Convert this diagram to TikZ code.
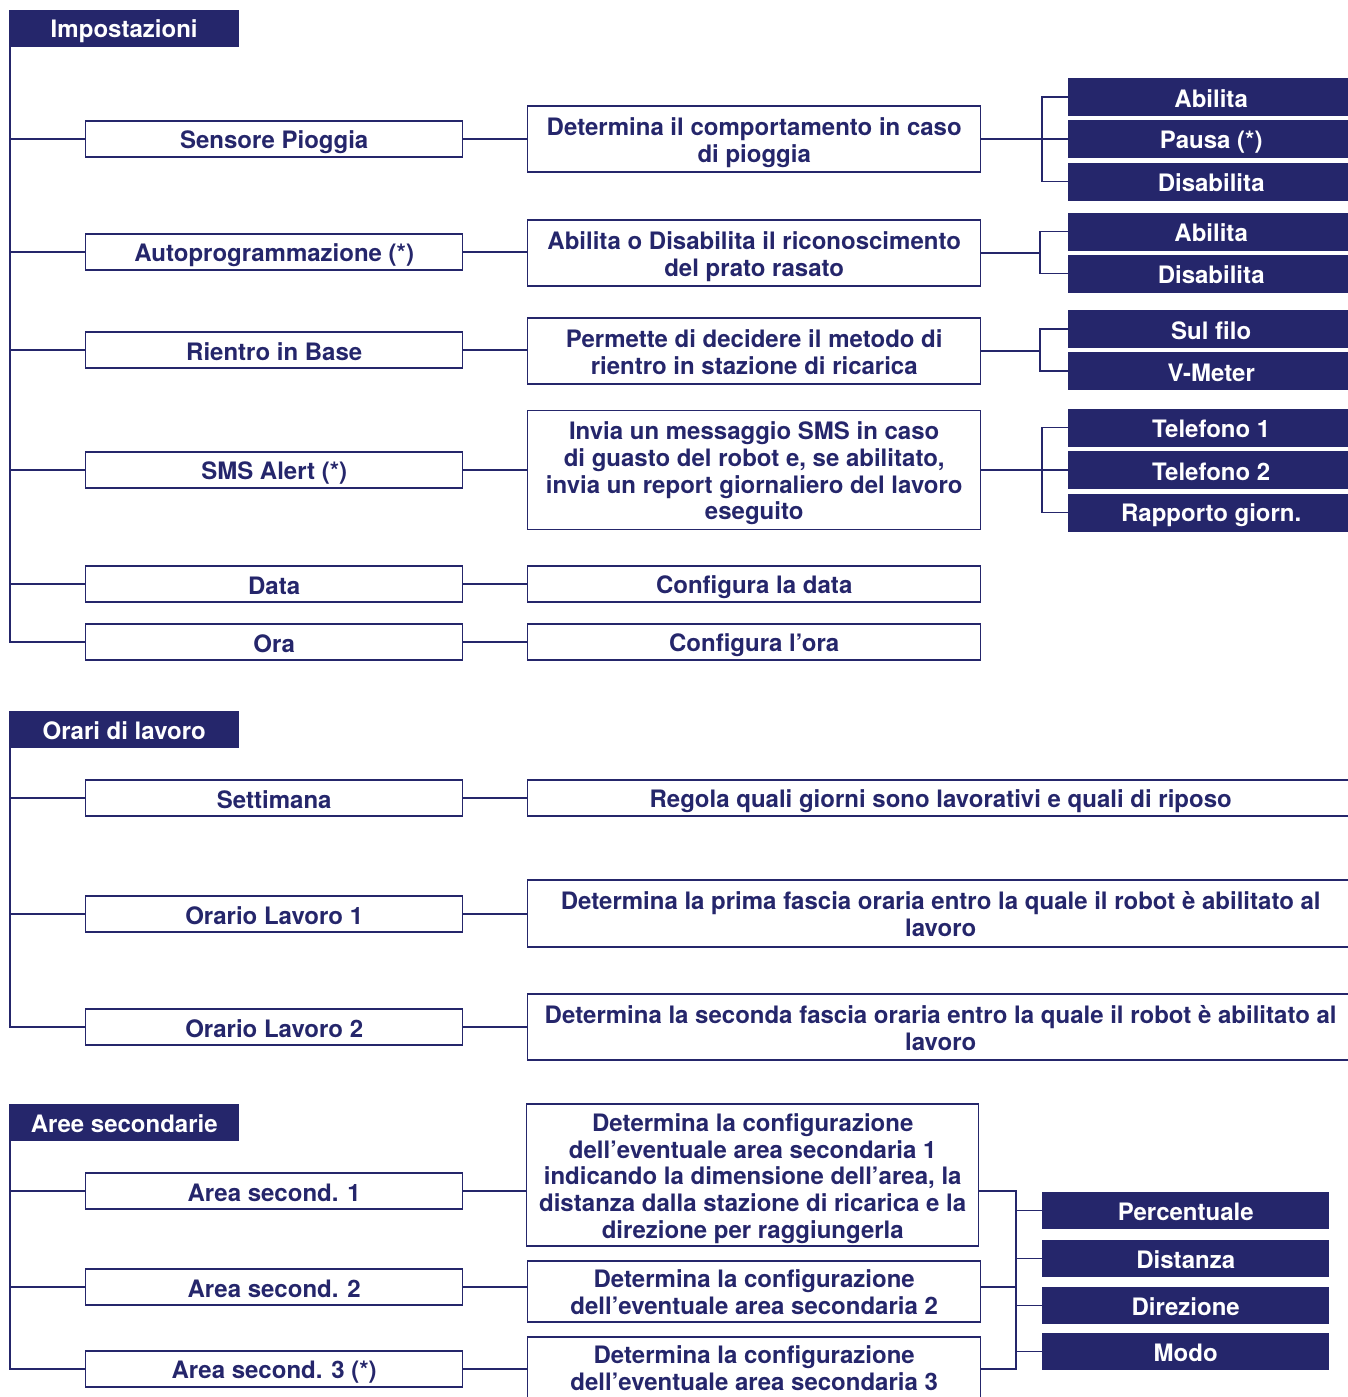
\documentclass[tikz,border=0pt]{standalone}
\usepackage{fontspec}
\setmainfont{TeX Gyre Heros}
\definecolor{navy}{RGB}{37,38,107}
\newcommand{\lnstrut}{\rule[-3.2pt]{0pt}{26.7pt}}
\newcommand{\topstrut}{\rule{0pt}{25.5pt}}
\newcommand{\botstrut}{\rule[-6pt]{0pt}{6pt}}
\tikzset{
  hdr/.style={fill=navy,text=white,minimum width=230pt,minimum height=37pt,anchor=north west,inner sep=0pt},
  item/.style={draw=navy,line width=1.4pt,text=navy,minimum width=377pt,minimum height=36pt,anchor=west,inner sep=0pt},
  desc/.style={draw=navy,line width=1.4pt,text=navy,minimum width=453pt,anchor=west,align=center,inner sep=0pt,
    execute at begin node={},execute at end node={}},
  desc1/.style={desc,execute at begin node=\lnstrut,execute at end node=\lnstrut},
  opt/.style={fill=navy,text=white,minimum width=286pt,minimum height=38pt,anchor=west,inner sep=0pt},
  link/.style={draw=navy,line width=1.3pt},
}
\begin{document}
\begin{tikzpicture}[x=1pt,y=-1pt,font=\fontsize{24}{26.7}\selectfont\bfseries,
  execute at begin node=\lnstrut, execute at end node=\lnstrut]
\useasboundingbox (0,0) rectangle (1347,1397);

% Impostazioni
\node[hdr] (impo) at (9,10) {Impostazioni};
\node[item] (sens) at (85,139) {Sensore Pioggia};
\node[item] (auto) at (85,252) {Autoprogrammazione (*)};
\node[item] (rient) at (85,350) {Rientro in Base};
\node[item] (sms) at (85,470) {SMS Alert (*)};
\node[item] (data) at (85,584) {Data};
\node[item] (ora) at (85,642) {Ora};

\node[desc,minimum height=66pt] (dsens) at (527,139) {\topstrut Determina il comportamento in caso\\di pioggia\botstrut};
\node[desc,minimum height=66pt] (dauto) at (527,253) {\topstrut Abilita o Disabilita il riconoscimento\\del prato rasato\botstrut};
\node[desc,minimum height=66pt] (drient) at (527,351) {\topstrut Permette di decidere il metodo di\\rientro in stazione di ricarica\botstrut};
\node[desc,minimum height=119pt] (dsms) at (527,470) {\topstrut Invia un messaggio SMS in caso\\di guasto del robot e, se abilitato,\\invia un report giornaliero del lavoro\\eseguito\botstrut};
\node[desc1,minimum height=36pt] (ddata) at (527,584) {Configura la data};
\node[desc1,minimum height=36pt] (dora) at (527,642) {Configura l’ora};

\node[opt] (abil1) at (1068,97) {Abilita};
\node[opt] (paus1) at (1068,139) {Pausa (*)};
\node[opt] (dis1) at (1068,181.5) {Disabilita};
\node[opt] (abil2) at (1068,231.5) {Abilita};
\node[opt] (dis2) at (1068,273.5) {Disabilita};
\node[opt] (filo) at (1068,329) {Sul filo};
\node[opt] (vmet) at (1068,371) {V-Meter};
\node[opt] (tel1) at (1068,427.5) {Telefono 1};
\node[opt] (tel2) at (1068,470) {Telefono 2};
\node[opt] (rapp) at (1068,512.5) {Rapporto giorn.};

\coordinate (r1) at (10,47);
\draw[link] (r1) |- (ora.west);
\foreach \n in {sens,auto,rient,sms,data}
  \draw[link] (r1 |- \n.west) -- (\n.west);
\foreach \a/\b in {sens/dsens,auto/dauto,rient/drient,sms/dsms,data/ddata,ora/dora}
  \draw[link] (\a.east) -- (\a.east -| \b.west);

% opzioni
\draw[link] (dsens.east) -- (paus1.west);
\draw[link] (abil1.west) -- ++(-26,0) |- (dis1.west);
\draw[link] (abil2.west) -- ++(-28,0) coordinate (b2) |- (dis2.west);
\draw[link] (dauto.east) -- (dauto.east -| b2);
\draw[link] (filo.west) -- ++(-28,0) coordinate (b3) |- (vmet.west);
\draw[link] (drient.east) -- (drient.east -| b3);
\draw[link] (dsms.east) -- (tel2.west);
\draw[link] (tel1.west) -- ++(-26,0) |- (rapp.west);

% Orari di lavoro
\node[hdr] (orari) at (9,711) {Orari di lavoro};
\node[item] (sett) at (85,798) {Settimana};
\node[item] (lav1) at (85,914) {Orario Lavoro 1};
\node[item] (lav2) at (85,1027) {Orario Lavoro 2};

\node[desc1,minimum width=826pt,minimum height=36pt] (dsett) at (527,798) {Regola quali giorni sono lavorativi e quali di riposo};
\node[desc,minimum width=826pt,minimum height=67pt] (dlav1) at (527,913.5) {\topstrut Determina la prima fascia oraria entro la quale il robot è abilitato al\\lavoro\botstrut};
\node[desc,minimum width=826pt,minimum height=66pt] (dlav2) at (527,1027) {\topstrut Determina la seconda fascia oraria entro la quale il robot è abilitato al\\lavoro\botstrut};

\coordinate (r2) at (10,748);
\draw[link] (r2) |- (lav2.west);
\foreach \n in {sett,lav1}
  \draw[link] (r2 |- \n.west) -- (\n.west);
\foreach \a/\b in {sett/dsett,lav1/dlav1,lav2/dlav2}
  \draw[link] (\a.east) -- (\a.east -| \b.west);

% Aree secondarie
\node[hdr] (aree) at (9,1104) {Aree secondarie};
\node[item] (ar1) at (85,1191) {Area second. 1};
\node[item] (ar2) at (85,1287) {Area second. 2};
\node[item] (ar3) at (85,1369) {Area second. 3 (*)};

\node[desc,minimum width=452pt,minimum height=142pt] (dar1) at (526,1175) {\topstrut Determina la configurazione\\dell’eventuale area secondaria 1\\indicando la dimensione dell’area, la\\distanza dalla stazione di ricarica e la\\direzione per raggiungerla\botstrut};
\node[desc,minimum height=61pt] (dar2) at (527,1291.5) {\topstrut Determina la configurazione\\dell’eventuale area secondaria 2\botstrut};
\node[desc,minimum height=61pt] (dar3) at (527,1367.5) {\topstrut Determina la configurazione\\dell’eventuale area secondaria 3\botstrut};

\node[opt,minimum width=287pt,minimum height=37pt] (perc) at (1042,1210.5) {Percentuale};
\node[opt,minimum width=287pt,minimum height=37pt] (dist) at (1042,1258.5) {Distanza};
\node[opt,minimum width=287pt,minimum height=37pt] (dir) at (1042,1305.5) {Direzione};
\node[opt,minimum width=287pt,minimum height=37pt] (modo) at (1042,1351.5) {Modo};

\coordinate (r3) at (10,1141);
\draw[link] (r3) |- (ar3.west);
\foreach \n in {ar1,ar2}
  \draw[link] (r3 |- \n.west) -- (\n.west);
\foreach \a/\b in {ar1/dar1,ar2/dar2,ar3/dar3}
  \draw[link] (\a.east) -- (\a.east -| \b.west);

\coordinate (b5) at (1016,1191);
\draw[link] (ar1.east -| dar1.east) -- (b5) -- (b5 |- ar3.east) -- (ar3.east -| dar3.east);
\draw[link] (ar2.east -| dar2.east) -- (ar2.east -| b5);
\foreach \n in {perc,dist,dir,modo}
  \draw[link] (b5 |- \n.west) -- (\n.west);
\end{tikzpicture}
\end{document}
